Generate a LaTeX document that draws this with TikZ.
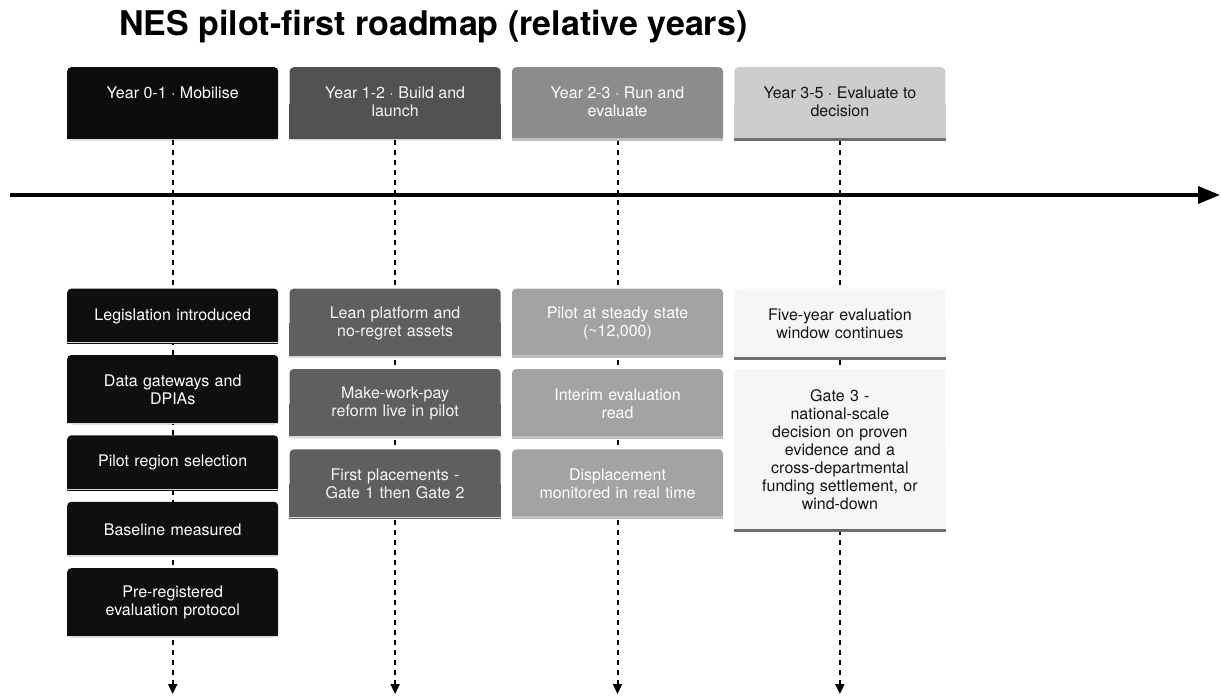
\documentclass[tikz,border=0pt]{standalone}
\usepackage{fontspec}
\setmainfont{TeX Gyre Heros}
\usetikzlibrary{arrows.meta,positioning,backgrounds}

\definecolor{hdrA}{HTML}{0C0C0C}
\definecolor{hdrB}{HTML}{525252}
\definecolor{hdrC}{HTML}{8C8C8C}
\definecolor{hdrD}{HTML}{CDCDCD}
\definecolor{itmA}{HTML}{0F0F0F}
\definecolor{itmB}{HTML}{5F5F5F}
\definecolor{itmC}{HTML}{A3A3A3}
\definecolor{itmD}{HTML}{F6F6F6}
\definecolor{lightline}{HTML}{DADADA}
\definecolor{midline}{HTML}{BEBEBE}
\definecolor{darkline}{HTML}{6F6F6F}

\newcommand{\toptext}[1]{\parbox[t][34pt][t]{195pt}{\centering #1}}

\begin{document}
\begin{tikzpicture}[
  x=1pt, y=-1pt,
  node distance=11pt,
  title/.style={inner sep=0pt, anchor=base west,
                font=\fontsize{34}{40}\selectfont\bfseries},
  hdr/.style={rectangle, rounded corners=4pt, inner sep=0pt,
              minimum width=211pt, minimum height=73pt,
              font=\fontsize{16}{18}\selectfont},
  item/.style={rectangle, rounded corners=4pt, inner sep=0pt,
               minimum width=211pt, text width=195pt, align=center,
               minimum height=55pt, font=\fontsize{16}{18}\selectfont},
  two/.style={minimum height=69pt},
  colA/.style={fill=#1A, text=white},
  colB/.style={fill=#1B, text=white!96!black},
  colC/.style={fill=#1C, text=white},
  colD/.style={fill=#1D, text=black!92},
  edgeA/.style={draw=lightline, line width=1.2pt},
  edgeB/.style={draw=lightline, line width=1.5pt},
  edgeC/.style={draw=midline, line width=3pt},
  edgeD/.style={draw=darkline, line width=3pt},
  guide/.style={line width=2pt, dash pattern=on 5pt off 5pt,
                -{Triangle[length=10pt,width=9pt]}},
  axis/.style={line width=3.5pt, -{Triangle[length=22pt,width=17pt]}}
]
\useasboundingbox (0,0) rectangle (1221,696);

\node[title] (title) at (119,35) {NES pilot-first roadmap (relative years)};

% phase headers
\node[hdr, colA=hdr, anchor=north west] (h1) at (67,67) {\toptext{Year 0-1 · Mobilise}};
\node[hdr, colB=hdr, right=of h1] (h2) {\toptext{Year 1-2 · Build and\\launch}};
\node[hdr, colC=hdr, right=of h2] (h3) {\toptext{Year 2-3 · Run and\\evaluate}};
\node[hdr, colD=hdr, right=of h3] (h4) {\toptext{Year 3-5 · Evaluate to\\decision}};

% Year 0-1
\node[item, colA=itm, below=148pt of h1] (i11) {Legislation introduced};
\node[item, colA=itm, two, below=of i11] (i12) {Data gateways and\\DPIAs};
\node[item, colA=itm, below=of i12] (i13) {Pilot region selection};
\node[item, colA=itm, below=of i13] (i14) {Baseline measured};
\node[item, colA=itm, two, below=of i14] (i15) {Pre-registered\\evaluation protocol};

% Year 1-2
\node[item, colB=itm, two, below=148pt of h2] (i21) {Lean platform and\\no-regret assets};
\node[item, colB=itm, two, below=of i21] (i22) {Make-work-pay\\reform live in pilot};
\node[item, colB=itm, two, below=of i22] (i23) {First placements -\\Gate 1 then Gate 2};

% Year 2-3
\node[item, colC=itm, two, below=148pt of h3] (i31) {Pilot at steady state\\(\textasciitilde12,000)};
\node[item, colC=itm, two, below=of i31] (i32) {Interim evaluation\\read};
\node[item, colC=itm, two, below=of i32] (i33) {Displacement\\monitored in real time};

% Year 3-5
\node[item, colD=itm, two, minimum height=71pt, below=148pt of h4] (i41)
  {Five-year evaluation\\window continues};
\node[item, colD=itm, minimum height=162pt, below=9pt of i41] (i42)
  {Gate 3 -\\national-scale\\decision on proven\\evidence and a\\cross-departmental\\funding settlement, or\\wind-down};

\def\boxlist{h1/hdrA/A, h2/hdrB/B, h3/hdrC/C, h4/hdrD/D,
  i11/itmA/A, i12/itmA/A, i13/itmA/A, i14/itmA/A, i15/itmA/A,
  i21/itmB/B, i22/itmB/B, i23/itmB/B,
  i31/itmC/C, i32/itmC/C, i33/itmC/C,
  i41/itmD/D, i42/itmD/D}

\begin{scope}[on background layer]
  \foreach \c in {1,...,4} {
    \coordinate (e\c) at (h\c.south |- 0,694);
    \draw[guide] (h\c.south) -- (e\c);
  }
  \coordinate (axL) at (10,195);
  \coordinate (axR) at (1220,195);
  \draw[axis] (axL) -- (axR);
  % square bottom corners
  \foreach \n/\f/\k in \boxlist
    \fill[\f] (\n.west) rectangle (\n.south east);
\end{scope}

\foreach \n/\f/\k in \boxlist
  \draw[edge\k] ([yshift=1pt]\n.south west) -- ([yshift=1pt]\n.south east);
\end{tikzpicture}
\end{document}
